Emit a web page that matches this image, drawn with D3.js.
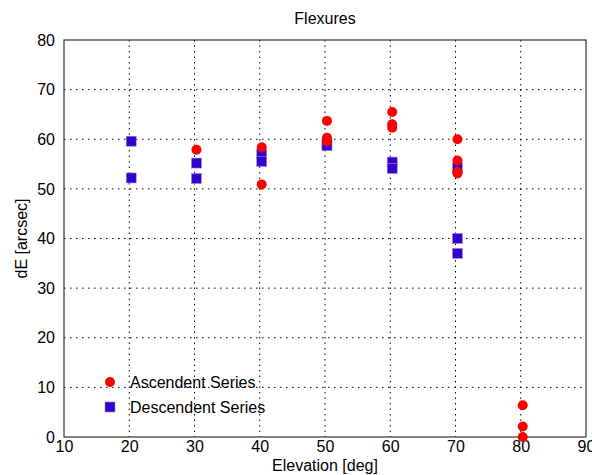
<!DOCTYPE html>
<html>
<head>
<meta charset="utf-8">
<script src="https://cdn.jsdelivr.net/npm/d3@7"></script>
<style>
  body { margin: 0; background: #fff; }
  text { font-family: "Liberation Sans", Arial, Helvetica, sans-serif; fill: #000; }
</style>
</head>
<body>
<svg id="chart" width="592" height="475"></svg>
<script>
// data
var xTicks = [10, 20, 30, 40, 50, 60, 70, 80, 90];
var yTicks = [0, 10, 20, 30, 40, 50, 60, 70, 80];

var ascElev = [30.3, 40.3, 40.3, 50.3, 50.3, 50.3, 60.3, 60.3, 60.3, 70.3, 70.3, 70.3, 70.3, 80.3, 80.3, 80.3];
var ascDE   = [57.9, 58.4, 50.9, 63.7, 60.3, 59.6, 65.5, 63.0, 62.3, 60.0, 55.7, 53.4, 53.1, 6.4, 2.1, 0.0];

var descElev = [20.3, 20.3, 30.3, 30.3, 40.3, 40.3, 50.3, 50.3, 60.3, 60.3, 70.3, 70.3, 70.3];
var descDE   = [59.6, 52.2, 55.2, 52.1, 57.0, 55.5, 59.2, 58.7, 55.4, 54.1, 54.2, 40.0, 37.0];

var svg = d3.select("#chart");

var margins = { top: 40, bottom: 38, left: 64, right: 6 };
var width = 592, height = 475;

var xscale = d3.scaleLinear().domain([10, 90]).range([margins.left, width - margins.right]);
var yscale = d3.scaleLinear().domain([0, 80]).range([height - margins.bottom, margins.top]);

// grid
svg.append("g").selectAll("line")
    .data(xTicks.slice(1, -1))
    .enter().append("line")
    .attr("x1", d => xscale(d)).attr("x2", d => xscale(d))
    .attr("y1", yscale(80)).attr("y2", yscale(0))
    .attr("stroke", "#000").attr("stroke-width", 1)
    .attr("stroke-dasharray", "1.5,4");

svg.append("g").selectAll("line")
    .data(yTicks.slice(1, -1))
    .enter().append("line")
    .attr("y1", d => yscale(d)).attr("y2", d => yscale(d))
    .attr("x1", xscale(10)).attr("x2", xscale(90))
    .attr("stroke", "#000").attr("stroke-width", 1)
    .attr("stroke-dasharray", "1.5,4.5");

// axes (labels only, frame drawn separately)
var x_axis = d3.axisBottom(xscale).tickValues(xTicks).tickSize(0).tickPadding(4);
var y_axis = d3.axisLeft(yscale).tickValues(yTicks).tickSize(0).tickPadding(9);

var gx = svg.append("g").attr("transform", "translate(0," + yscale(0) + ")").call(x_axis);
var gy = svg.append("g").attr("transform", "translate(" + xscale(10) + ",0)").call(y_axis);
[gx, gy].forEach(function (g) {
    g.select(".domain").remove();
    g.selectAll("text").attr("font-size", 16).attr("font-family", "Liberation Sans, Arial, sans-serif");
});

// frame
svg.append("rect")
    .attr("x", xscale(10)).attr("y", yscale(80))
    .attr("width", xscale(90) - xscale(10)).attr("height", yscale(0) - yscale(80))
    .attr("fill", "none").attr("stroke", "#333").attr("stroke-width", 1.2);

// descendent squares
var sq = 10;
svg.append("g").selectAll("rect")
    .data(descElev.map((e, i) => ({ x: e, y: descDE[i] })))
    .enter().append("rect")
    .attr("x", d => xscale(d.x) - sq / 2)
    .attr("y", d => yscale(d.y) - sq / 2)
    .attr("width", sq).attr("height", sq)
    .attr("fill", "#3300cc").attr("stroke", "#9a8ae0").attr("stroke-width", 0.6);

// ascendent circles
svg.append("g").selectAll("circle")
    .data(ascElev.map((e, i) => ({ x: e, y: ascDE[i] })))
    .enter().append("circle")
    .attr("cx", d => xscale(d.x))
    .attr("cy", d => yscale(d.y))
    .attr("r", 5)
    .attr("fill", "#ff0000");

// legend
var leg = svg.append("g");
leg.append("circle").attr("cx", 110).attr("cy", 382).attr("r", 5).attr("fill", "#ff0000");
leg.append("text").attr("x", 130).attr("y", 382).attr("dy", "0.35em")
    .attr("font-size", 16).text("Ascendent Series");
leg.append("rect").attr("x", 105).attr("y", 402).attr("width", sq).attr("height", sq)
    .attr("fill", "#3300cc").attr("stroke", "#9a8ae0").attr("stroke-width", 0.6);
leg.append("text").attr("x", 130).attr("y", 407).attr("dy", "0.35em")
    .attr("font-size", 16).text("Descendent Series");

// title and axis labels
var cx = (xscale(10) + xscale(90)) / 2;
svg.append("text").attr("x", cx).attr("y", 24).attr("text-anchor", "middle")
    .attr("font-size", 16).text("Flexures");
svg.append("text").attr("x", cx).attr("y", 471).attr("text-anchor", "middle")
    .attr("font-size", 16).text("Elevation [deg]");
svg.append("text")
    .attr("transform", "translate(27," + ((yscale(0) + yscale(80)) / 2) + ") rotate(-90)")
    .attr("text-anchor", "middle").attr("font-size", 16).text("dE [arcsec]");
</script>
</body>
</html>
